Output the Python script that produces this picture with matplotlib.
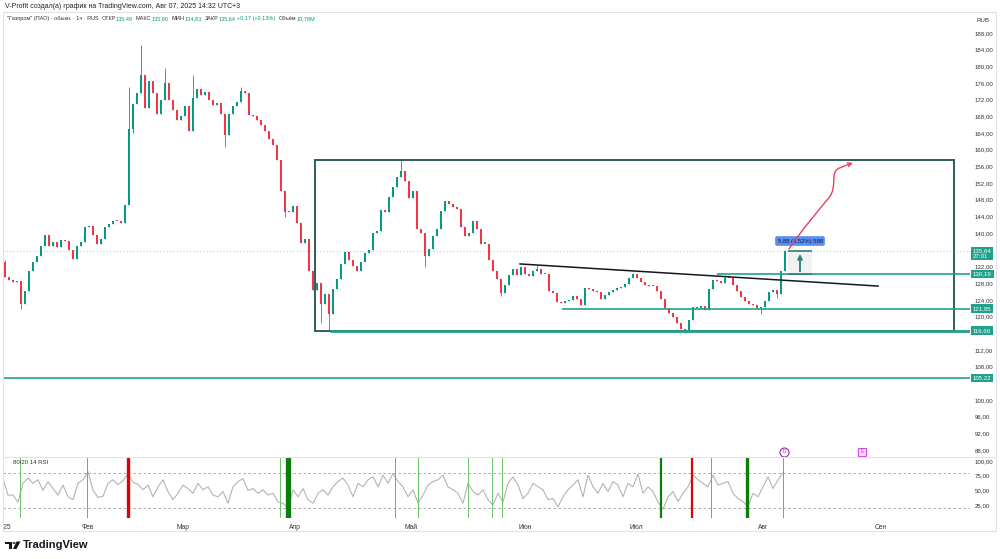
import matplotlib

matplotlib.use("Agg")

import matplotlib.pyplot as plt
import matplotlib.patches as mpatches
import matplotlib.transforms as mtransforms
from matplotlib.path import Path
import numpy as np

W, H = 1000, 559

# hourly "Газпром" candles, resampled to about 4 px per bar (closes)
closes = [
    129.5, 128.8, 128.2, 128.6, 123.0, 126.0, 131.0, 133.0, 134.5, 136.8,
    139.5, 137.0, 137.9, 136.6, 138.4, 138.0, 136.0, 133.8, 137.0, 137.8,
    141.5, 141.8, 139.5, 137.5, 138.5, 141.5, 142.2, 143.0, 142.8, 142.5,
    146.8, 165.0, 171.0, 173.6, 178.0, 170.0, 176.5, 173.6, 168.5, 172.0,
    176.0, 172.0, 169.5, 167.0, 168.0, 170.5, 164.5, 172.5, 174.5, 173.2,
    173.8, 172.0, 170.7, 171.2, 168.6, 163.5, 168.5, 170.5, 171.5, 174.0,
    173.6, 168.4, 168.0, 167.2, 166.0, 164.5, 162.5, 161.0, 157.5, 150.0,
    145.0, 145.0, 146.5, 142.5, 137.6, 138.5, 131.0, 126.4, 128.0, 123.0,
    125.5, 120.5, 126.5, 129.0, 132.5, 135.5, 133.5, 132.0, 131.0, 133.0,
    135.2, 135.9, 140.0, 140.6, 145.5, 145.0, 148.7, 151.0, 153.5, 155.0,
    152.5, 148.5, 150.0, 141.0, 140.0, 134.5, 136.3, 139.4, 141.0, 145.2,
    147.8, 147.0, 146.2, 145.8, 141.5, 139.3, 140.0, 143.0, 141.0, 137.5,
    137.5, 133.6, 131.0, 129.0, 125.6, 127.5, 130.0, 131.4, 130.0, 131.8,
    130.3, 129.8, 130.9, 131.5, 130.3, 130.1, 126.0, 125.6, 123.5, 123.2,
    123.8, 124.0, 124.8, 124.3, 122.8, 126.8, 126.6, 126.2, 125.8, 124.3,
    125.2, 125.8, 126.3, 126.8, 127.1, 127.8, 129.2, 130.2, 129.2, 128.2,
    127.5, 127.2, 127.4, 126.0, 124.3, 122.0, 120.8, 119.8, 118.5, 116.9,
    116.8, 119.2, 122.2, 122.1, 122.4, 121.5, 126.5, 128.7, 128.4, 128.0,
    129.3, 129.3, 127.5, 126.0, 124.6, 123.6, 123.0, 122.7, 122.0, 122.2,
    123.8, 125.8, 126.3, 125.3, 131.0, 135.64,
]
first_open = 133.0
wick_highs = {0: 133.5, 31: 175.0, 34: 185.0, 40: 179.5, 47: 177.9, 59: 175.0,
              99: 157.6, 133: 132.4, 157: 130.5, 180: 130.0, 195: 135.9}
wick_lows = {4: 121.7, 32: 164.0, 55: 160.7, 70: 143.9, 79: 118.5, 81: 116.6,
             105: 131.9, 124: 124.9, 170: 116.0, 189: 120.6, 193: 124.5}

# 80/20 14 RSI, one value per 1.25 bars
rsi_values = [
    70, 42, 42, 30, 62, 71, 62, 68, 50, 65,
    53, 42, 59, 39, 34, 62, 68, 82, 50, 38,
    40, 62, 68, 60, 66, 79, 64, 60, 51, 59,
    39, 56, 68, 48, 34, 45, 59, 53, 45, 62,
    51, 56, 42, 39, 48, 28, 56, 65, 70, 50,
    53, 45, 51, 42, 45, 30, 28, 20, 51, 39,
    53, 34, 28, 45, 51, 42, 56, 65, 71, 59,
    39, 62, 56, 68, 73, 56, 76, 62, 79, 65,
    56, 39, 51, 28, 42, 59, 65, 68, 76, 56,
    51, 45, 28, 62, 48, 42, 51, 34, 25, 45,
    30, 62, 73, 59, 36, 45, 62, 56, 51, 34,
    36, 22, 39, 51, 59, 68, 39, 76, 56, 45,
    62, 48, 65, 59, 39, 62, 56, 78, 45, 56,
    48, 30, 18, 39, 48, 31, 45, 56, 76, 68,
    62, 56, 76, 59, 62, 65, 45, 36, 31, 22,
    45, 39, 56, 73, 53, 68, 80,
]

# RSI cross signals (bar index, side, strength)
signal_idx = [3.75, 20.5, 30.75, 68.75, 70.75, 97.5, 103.25, 115.75, 121.75,
              124.25, 164.0, 171.75, 176.5, 185.5, 194.5]
signal_side = ["buy", "sell", "sell", "buy", "buy", "sell", "buy", "buy", "buy",
               "buy", "buy", "sell", "sell", "buy", "sell"]
signal_strength = [1, 1, 3, 1, 4, 1, 1, 1, 1, 1, 2, 2, 1, 3, 1]

month_idx = [0.5, 20.75, 44.5, 72.5, 101.5, 130.0, 157.75, 189.5, 219.0]
month_labels = ["'25", "Фев", "Мар", "Апр", "Май", "Июн", "Июл", "Авг", "Сен"]

# ticks hidden by the price-scale label boxes are left out
price_ticks = [88, 92, 96, 100, 108, 112, 120, 124, 128, 132, 140, 144, 148,
               152, 156, 160, 164, 168, 172, 176, 180, 184, 188]
rsi_ticks = [25, 50, 75, 100]

# drawings
level_prices = [130.19, 121.85, 116.60, 105.22]
level_starts = [178.0, 139.25, 81.25, -2.0]
range_box = (77.5, 237.25, 116.55, 157.5)       # x0, x1, low, high
trend_x = [128.75, 218.25]
trend_y = [132.6, 127.3]
measure_box = (195.75, 201.75, 130.19, 135.64)
last_price = 135.64

UP = "#089981"
DOWN = "#f23645"
TEAL = "#22a08b"
TXT = "#333333"
LBL = 4.4

plt.rcParams["font.family"] = ["Liberation Sans", "DejaVu Sans"]

fig = plt.figure(figsize=(W / 100, H / 100), dpi=100)


def fx(x):
    return x / W


def fy(y):
    return 1 - y / H


ax = fig.add_axes([fx(3), fy(455), fx(967), 443 / H])
ax_rsi = fig.add_axes([fx(3), fy(518), fx(967), 61 / H], sharex=ax)

# ---- candles
idx = np.arange(len(closes))
c = np.array(closes)
o = np.array([first_open] + closes[:-1])
hi = np.maximum(o, c)
lo = np.minimum(o, c)
for k, v in wick_highs.items():
    hi[k] = max(hi[k], v)
for k, v in wick_lows.items():
    lo[k] = min(lo[k], v)
cols = np.where(c >= o, UP, DOWN)
ax.vlines(idx, lo, hi, colors=cols, lw=0.6, zorder=3)
ax.bar(idx, np.maximum(np.abs(c - o), 0.25), bottom=np.minimum(o, c), width=0.5,
       color=cols, lw=0, zorder=3)

ax.set_xlim(-0.5, 241.25)
ax.set_ylim(86.8, 193.0)
for s in ax.spines.values():
    s.set_visible(False)
ax.tick_params(axis="x", bottom=False, labelbottom=False)
ax.yaxis.tick_right()
ax.set_yticks(price_ticks)
ax.set_yticklabels([f"{v:.2f}".replace(".", ",") for v in price_ticks])
ax.tick_params(axis="y", length=0, pad=3.2, labelsize=LBL, labelcolor=TXT)

# current price line
ax.axhline(last_price, color="#a8ddd4", lw=0.8, ls=(0, (1, 2)), zorder=1)

# range rectangle
x0, x1, b0, b1 = range_box
ax.add_patch(mpatches.Rectangle((x0, b0), x1 - x0, b1 - b0, fill=False,
                                ec="#2f5f5b", lw=1.4, zorder=4))

# horizontal levels
lw_levels = [1.2, 1.2, 2.0, 1.2]
for p, st, lw in zip(level_prices, level_starts, lw_levels):
    ax.hlines(p, st, 241.25, color=TEAL, lw=lw, zorder=4)

# trend line
ax.plot(trend_x, trend_y, color="#131722", lw=1.1, zorder=5)

# measure tool
m0, m1, mb, mt = measure_box
ax.add_patch(mpatches.Rectangle((m0, mb), m1 - m0, mt - mb, fc="#eeeeee",
                                ec="none", alpha=0.8, zorder=5))
ax.hlines([mb, mt], m0, m1, color="#2a7d70", lw=1.2, zorder=6)
ax.annotate("", xy=((m0 + m1) / 2, mt), xytext=((m0 + m1) / 2, mb),
            arrowprops=dict(arrowstyle="->", color="#2a7d70", lw=1.3,
                            mutation_scale=7), zorder=6)
ax.text(198.75, 138.1, "5,88 (4,52%) 588", ha="center", va="center",
        fontsize=4.2, color="#0d1b4c", zorder=7,
        bbox=dict(boxstyle="round,pad=0.4,rounding_size=0.3", fc="#5b8ef0", ec="none"))

# hand-drawn forecast arrow
verts = [(196.0, 136.2), (199.0, 140.5), (203.0, 145.0), (206.0, 148.5),
         (208.3, 151.2), (206.0, 154.5), (208.6, 155.6),
         (209.8, 156.1), (211.0, 156.5), (212.0, 156.8)]
codes = [Path.MOVETO] + [Path.CURVE4] * 9
arrow = mpatches.FancyArrowPatch(path=Path(verts, codes), arrowstyle="->",
                                 mutation_scale=7, color="#e5405e", lw=1.0, zorder=7)
ax.add_patch(arrow)

# event markers (dividends / earnings)
ax.plot([194.75], [87.6], marker="o", ms=6.5, mfc="white", mec="#9c27b0", mew=0.8,
        clip_on=False, zorder=8)
ax.text(194.75, 87.6, "D", ha="center", va="center", fontsize=3.5, color="#9c27b0",
        zorder=9, clip_on=False)
ax.plot([214.25], [87.6], marker="s", ms=6, mfc="#fbe9f7", mec="#e040fb", mew=0.8,
        clip_on=False, zorder=8)
ax.text(214.25, 87.6, "E", ha="center", va="center", fontsize=3.5, color="#c026d3",
        zorder=9, clip_on=False)

# price scale labels
blend = mtransforms.blended_transform_factory(fig.transFigure, ax.transData)
for p in level_prices:
    ax.text(fx(973), p, f"{p:.2f}".replace(".", ","), transform=blend, ha="left",
            va="center", fontsize=LBL, color="white", zorder=10, clip_on=False,
            bbox=dict(boxstyle="square,pad=0.3", fc=TEAL, ec="none"))
ax.text(fx(973), 135.1, f"{last_price:.2f}".replace(".", ",") + "\n27:01",
        transform=blend, ha="left", va="center", fontsize=LBL, color="white",
        linespacing=1.0, zorder=10, clip_on=False,
        bbox=dict(boxstyle="square,pad=0.25", fc=TEAL, ec="none"))

# ---- RSI pane
rsi_x = np.arange(len(rsi_values)) * 1.25 - 0.5
ax_rsi.plot(rsi_x, rsi_values, color="#b4b4b4", lw=0.8, zorder=3)
for lvl in (80, 20):
    ax_rsi.axhline(lvl, color="#9e9e9e", lw=0.6, ls=(0, (3, 3)), zorder=2)
widths = {1: 0.7, 2: 1.6, 3: 2.4, 4: 3.8}
for xi, side, st in zip(signal_idx, signal_side, signal_strength):
    if side == "buy":
        col = "#0b7d0b" if st > 1 else "#6cc06c"
    else:
        col = "#e00000" if st > 1 else "#ef6b6b"
    ax_rsi.axvline(xi, color=col, lw=widths[st], zorder=4)
ax_rsi.text(2, 98, "80/20 14 RSI", fontsize=4.3, color=TXT, va="center", zorder=5)
ax_rsi.set_ylim(2.9, 106.8)
for s in ax_rsi.spines.values():
    s.set_visible(False)
ax_rsi.yaxis.tick_right()
ax_rsi.set_yticks(rsi_ticks)
ax_rsi.set_yticklabels([f"{v:.2f}".replace(".", ",") for v in rsi_ticks])
ax_rsi.tick_params(axis="y", length=0, pad=3.2, labelsize=LBL, labelcolor=TXT)
ax_rsi.set_xticks(month_idx)
ax_rsi.set_xticklabels(month_labels)
ax_rsi.tick_params(axis="x", length=0, pad=4, labelsize=4.8, labelcolor=TXT)

# ---- frame and header
fig.add_artist(mpatches.Rectangle((fx(3), fy(531)), fx(993), 519 / H, fill=False,
                                  ec="#e0e3eb", lw=0.8, transform=fig.transFigure))
fig.add_artist(plt.Line2D([fx(3), fx(996)], [fy(456.5), fy(456.5)], color="#e0e3eb",
                          lw=0.8, transform=fig.transFigure))

fig.text(fx(5), fy(6), "V-Profit создал(а) график на TradingView.com, Авг 07, 2025 14:32 UTC+3",
         fontsize=5.0, color="#222222", va="center")
fig.text(fx(983), fy(20), "RUB", fontsize=4.4, color=TXT, va="center", ha="center")

# legend line, pieces placed one after the other (gap in px before each piece)
info = [("\"Газпром\" (ПАО) · обыкн. · 1ч · RUS", TXT, 0),
        ("ОТКР", TXT, 3), ("135,49", UP, 0),
        ("МАКС", TXT, 3), ("135,90", UP, 0),
        ("МИН", TXT, 3), ("134,83", UP, 0),
        ("ЗАКР", TXT, 3), ("135,64", UP, 0),
        ("+0,17 (+0,13%)", UP, 2),
        ("Объём", TXT, 3), ("10,78M", UP, 0)]
renderer = fig.canvas.get_renderer()
xpos = 7.0
for s, col, gap in info:
    xpos += gap
    t = fig.text(fx(xpos), fy(18.5), s, fontsize=4.0, color=col, va="center")
    xpos += t.get_window_extent(renderer=renderer).width

# TradingView logo
fig.add_artist(mpatches.Rectangle((fx(5), fy(544)), fx(7), 2.5 / H, fc="#131722",
                                  ec="none", transform=fig.transFigure))
fig.add_artist(mpatches.Rectangle((fx(9), fy(549)), fx(3), 7 / H, fc="#131722",
                                  ec="none", transform=fig.transFigure))
fig.add_artist(mpatches.Circle((fx(14), fy(543)), 1.5 / W, fc="#131722", ec="none",
                               transform=fig.transFigure))
fig.add_artist(mpatches.Polygon([(fx(16.5), fy(541.5)), (fx(20.5), fy(541.5)),
                                 (fx(16.5), fy(549)), (fx(13), fy(549))],
                                fc="#131722", ec="none", transform=fig.transFigure))
fig.text(fx(23), fy(545), "TradingView", fontsize=8, fontweight="bold",
         color="#131722", va="center")

fig.savefig("out.png", dpi=100, facecolor="white")
